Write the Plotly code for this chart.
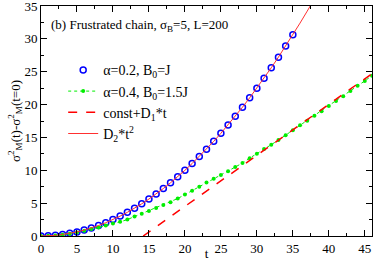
import plotly.graph_objects as go

# alpha=0.2, B0=J (blue open circles)
t_a = list(range(0, 36))
y_a = [0.0, 0.03, 0.1, 0.22, 0.4, 0.62, 0.9, 1.22, 1.6, 2.02, 2.5, 3.03, 3.6, 4.22,
       4.9, 5.62, 6.4, 7.22, 8.1, 9.02, 10.0, 11.02, 12.1, 13.22, 14.4, 15.62, 16.9,
       18.22, 19.6, 21.02, 22.5, 24.02, 25.6, 27.22, 28.9, 30.62]

# alpha=0.4, B0=1.5J (green filled dots)
t_b = list(range(0, 47))
y_b = [0.0, 0.02, 0.08, 0.18, 0.35, 0.55, 0.8, 1.05, 1.3, 1.6, 1.9, 2.15, 2.5, 2.95,
       3.4, 3.8, 4.25, 4.7, 5.15, 5.7, 6.3, 6.9, 7.5, 8.15, 8.7, 9.3, 9.85, 10.5, 11.1,
       11.85, 12.5, 13.25, 13.9, 14.6, 15.35, 16.1, 16.85, 17.55, 18.3, 19.0, 19.8,
       20.55, 21.25, 22.05, 22.85, 23.6, 24.4]

# const + D1*t fit (red dashed)
t_lin = [14.2, 46.0]
y_lin = [0.0, 24.7]

# D2*t^2 fit (red solid)
t_quad = list(range(0, 39))
y_quad = [0.0, 0.025, 0.1, 0.225, 0.4, 0.625, 0.9, 1.225, 1.6, 2.025, 2.5, 3.025, 3.6,
          4.225, 4.9, 5.625, 6.4, 7.225, 8.1, 9.025, 10.0, 11.025, 12.1, 13.225, 14.4,
          15.625, 16.9, 18.225, 19.6, 21.025, 22.5, 24.025, 25.6, 27.225, 28.9, 30.625,
          32.4, 34.225, 36.1]

x_ticks = [0, 5, 10, 15, 20, 25, 30, 35, 40, 45]
y_ticks = [0, 5, 10, 15, 20, 25, 30, 35]

FONT = "Liberation Serif, Times New Roman, serif"

fig = go.Figure()
fig.add_trace(go.Scatter(x=t_a, y=y_a, mode="markers", name="α=0.2, B<sub>0</sub>=J",
                         marker=dict(symbol="circle-open", color="#0000ff", size=6,
                                     line=dict(width=1.5, color="#0000ff"))))
fig.add_trace(go.Scatter(x=t_b, y=y_b, mode="lines+markers", name="α=0.4, B<sub>0</sub>=1.5J",
                         marker=dict(symbol="circle", color="#00ee00", size=4),
                         line=dict(color="#00ee00", width=1, dash="dot")))
fig.add_trace(go.Scatter(x=t_lin, y=y_lin, mode="lines", name="const+D<sub>1</sub>*t",
                         line=dict(color="#ff0000", width=1.5, dash="dash")))
fig.add_trace(go.Scatter(x=t_quad, y=y_quad, mode="lines", name="D<sub>2</sub>*t<sup>2</sup>",
                         line=dict(color="#ff3030", width=1)))

axis_common = dict(showline=True, linecolor="black", linewidth=1, mirror="ticks",
                   ticks="inside", ticklen=6, tickcolor="black", showgrid=False,
                   zeroline=False, tickfont=dict(family=FONT, size=13, color="black"),
                   ticklabeloverflow="allow", automargin=False,
                   minor=dict(ticks="inside", ticklen=3, tickcolor="black", dtick=2.5))

fig.update_xaxes(range=[0, 46], tickvals=x_ticks,
                 title=dict(text="t", font=dict(family=FONT, size=13), standoff=3),
                 **axis_common)
fig.update_yaxes(range=[0, 35], tickvals=y_ticks,
                 title=dict(text="σ<sup>2</sup><sub>M</sub>(t)-σ<sup>2</sup><sub>M</sub>(t=0)",
                            font=dict(family=FONT, size=13), standoff=0),
                 **axis_common)

fig.add_annotation(text="(b) Frustrated chain, σ<sub>B</sub>=5, L=200", xref="paper", yref="paper",
                   x=0.025, y=0.915, xanchor="left", yanchor="middle", showarrow=False,
                   font=dict(family=FONT, size=13, color="black"))

fig.update_layout(
    width=374, height=261,
    margin=dict(l=41, r=2, t=6, b=25),
    plot_bgcolor="white", paper_bgcolor="white",
    font=dict(family=FONT, color="black"),
    legend=dict(x=0.067, y=0.79, xanchor="left", yanchor="top", bgcolor="rgba(0,0,0,0)",
                font=dict(family=FONT, size=14), tracegroupgap=0, itemwidth=30),
    showlegend=True,
)

fig.write_html("out.html", post_script="document.body.style.margin='0';",
               config={"displayModeBar": False})
